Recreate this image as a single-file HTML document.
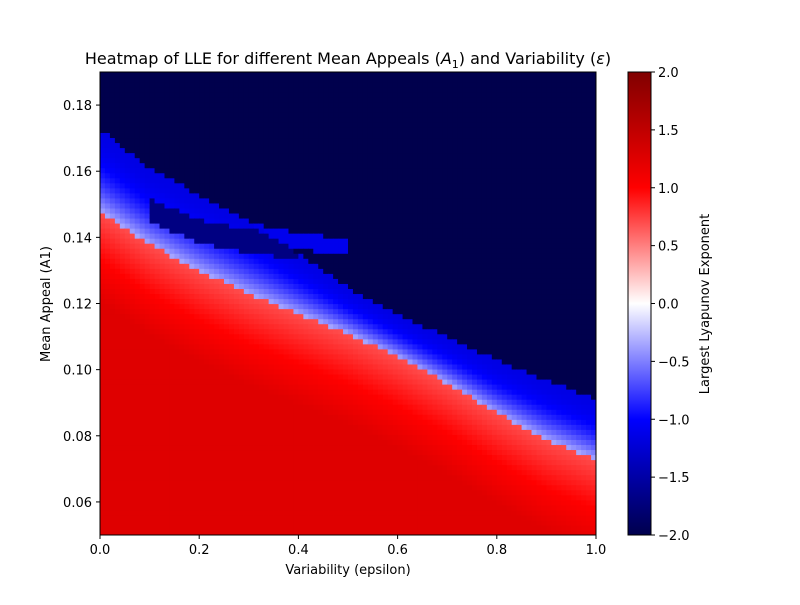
<!DOCTYPE html>
<html><head><meta charset="utf-8"><style>
body{margin:0;background:#fff;}
svg text{font-family:"DejaVu Sans","Liberation Sans",sans-serif;fill:#000;}
</style></head><body>
<svg id="chart" width="800" height="600" viewBox="0 0 800 600" xmlns="http://www.w3.org/2000/svg">
<defs>
<linearGradient id="cbgrad" x1="0" y1="1" x2="0" y2="0">
<stop offset="0" stop-color="rgb(0,0,77)"/>
<stop offset="0.25" stop-color="rgb(0,0,255)"/>
<stop offset="0.5" stop-color="rgb(255,255,255)"/>
<stop offset="0.75" stop-color="rgb(255,0,0)"/>
<stop offset="1" stop-color="rgb(128,0,0)"/>
</linearGradient>
<clipPath id="plotclip"><rect x="100" y="72" width="496" height="463"/></clipPath>
</defs>
<text x="348" y="64" font-size="16" text-anchor="middle">Heatmap of LLE for different Mean Appeals (<tspan font-style="italic">A</tspan><tspan font-size="11" dy="4">1</tspan><tspan dy="-4">) and Variability (</tspan><tspan font-style="italic">ε</tspan>)</text>
<g id="cells" clip-path="url(#plotclip)"></g>
<rect x="100" y="72" width="496" height="463" fill="none" stroke="#000" stroke-width="1"/>
<g id="xaxis"></g>
<g id="yaxis"></g>
<text x="348" y="574" font-size="13" text-anchor="middle">Variability (epsilon)</text>
<text transform="translate(50,304) rotate(-90)" font-size="13" text-anchor="middle">Mean Appeal (A1)</text>
<rect x="628" y="72" width="23" height="463" fill="url(#cbgrad)" stroke="#000" stroke-width="1"/>
<g id="cbaxis"></g>
<text transform="translate(709,304) rotate(-90)" font-size="13" text-anchor="middle">Largest Lyapunov Exponent</text>
</svg>
<script>
const epsGrid = [0, 0.1, 0.2, 0.3, 0.4, 0.5, 0.6, 0.7, 0.8, 0.9, 1.0];
const topBoundary = [0.173, 0.161, 0.153, 0.145, 0.135, 0.125, 0.117, 0.110, 0.103, 0.097, 0.091];
const redBoundary = [0.148, 0.138, 0.130, 0.123, 0.117, 0.111, 0.104, 0.096, 0.087, 0.079, 0.073];
const pocketCenter = [0, 0.148, 0.142, 0.139, 0.137, 0, 0, 0, 0, 0, 0];
const armCenter = [0, 0, 0.146, 0.142, 0.139, 0.137, 0, 0, 0, 0, 0];
const xTicks = [0, 0.2, 0.4, 0.6, 0.8, 1.0];
const xTickLabels = ["0.0", "0.2", "0.4", "0.6", "0.8", "1.0"];
const yTicks = [0.06, 0.08, 0.10, 0.12, 0.14, 0.16, 0.18];
const yTickLabels = ["0.06", "0.08", "0.10", "0.12", "0.14", "0.16", "0.18"];
const cbTicks = [-2, -1.5, -1, -0.5, 0, 0.5, 1, 1.5, 2];
const cbTickLabels = ["−2.0", "−1.5", "−1.0", "−0.5", "0.0", "0.5", "1.0", "1.5", "2.0"];

const NS = "http://www.w3.org/2000/svg";
const X0 = 100, X1 = 596, Y0 = 535, Y1 = 72;
const xMin = 0, xMax = 1, yMin = 0.05, yMax = 0.19;
function xScale(v){ return X0 + (v - xMin) / (xMax - xMin) * (X1 - X0); }
function yScale(v){ return Y0 - (v - yMin) / (yMax - yMin) * (Y0 - Y1); }
function cbScale(v){ return 535 - (v + 2) / 4 * 463; }
function interp(arr, e){
  const i = Math.min(epsGrid.length - 2, Math.floor(e / 0.1));
  const t = (e - epsGrid[i]) / (epsGrid[i+1] - epsGrid[i]);
  return arr[i] + (arr[i+1] - arr[i]) * t;
}
function interpOpt(arr, e){
  const i = Math.min(epsGrid.length - 2, Math.floor(e / 0.1));
  if (!arr[i] || !arr[i+1]) return 0;
  return interp(arr, e);
}
function seismic(v){
  let t = Math.max(0, Math.min(1, (v + 2) / 4));
  const stops = [[0,0,0,77],[0.25,0,0,255],[0.5,255,255,255],[0.75,255,0,0],[1,128,0,0]];
  for (let i = 0; i < 4; i++){
    if (t <= stops[i+1][0]){
      const a = stops[i], b = stops[i+1], f = (t - a[0]) / (b[0] - a[0]);
      return "rgb(" + [1,2,3].map(k => Math.round(a[k] + (b[k]-a[k])*f)).join(",") + ")";
    }
  }
  return "rgb(128,0,0)";
}
function lle(e, a){
  const top = interp(topBoundary, e), red = interp(redBoundary, e);
  const arm = interpOpt(armCenter, e);
  if (a > top) {
    if (arm && Math.abs(a - arm) < 0.0025) return -1.1;
    return -2;
  }
  if (a > red) {
    const pc = interpOpt(pocketCenter, e);
    if (pc && Math.abs(a - pc) < 0.0035) return -1.7;
    const f = (top - a) / (top - red);
    return -1.15 + f * f * 0.8;
  }
  return Math.min(1.25, 0.7 + (red - a) * 20);
}
const cells = document.getElementById("cells");
const nx = 100, ny = 92;
for (let i = 0; i < nx; i++){
  for (let j = 0; j < ny; j++){
    const e0 = xMin + i * (xMax - xMin) / nx, e1 = xMin + (i+1) * (xMax - xMin) / nx;
    const a0 = yMin + j * (yMax - yMin) / ny, a1 = yMin + (j+1) * (yMax - yMin) / ny;
    const r = document.createElementNS(NS, "rect");
    r.setAttribute("x", xScale(e0));
    r.setAttribute("y", yScale(a1));
    r.setAttribute("width", xScale(e1) - xScale(e0) + 0.6);
    r.setAttribute("height", yScale(a0) - yScale(a1) + 0.6);
    r.setAttribute("fill", seismic(lle((e0+e1)/2, (a0+a1)/2)));
    
    
    cells.appendChild(r);
  }
}
function addTick(g, x1, y1, x2, y2, tx, ty, label, anchor, name){
  const l = document.createElementNS(NS, "line");
  l.setAttribute("x1", x1); l.setAttribute("y1", y1); l.setAttribute("x2", x2); l.setAttribute("y2", y2);
  l.setAttribute("stroke", "#000");
  
  
  g.appendChild(l);
  const t = document.createElementNS(NS, "text");
  t.setAttribute("x", tx); t.setAttribute("y", ty); t.setAttribute("font-size", "13");
  t.setAttribute("text-anchor", anchor);
  t.textContent = label;
  
  
  g.appendChild(t);
}
const xg = document.getElementById("xaxis");
xTicks.forEach((v, i) => { const x = xScale(v); addTick(xg, x, 535, x, 539, x, 554, xTickLabels[i], "middle", "x-axis"); });
const yg = document.getElementById("yaxis");
yTicks.forEach((v, i) => { const y = yScale(v); addTick(yg, 100, y, 96, y, 92, y + 5, yTickLabels[i], "end", "y-axis"); });
const cg = document.getElementById("cbaxis");
cbTicks.forEach((v, i) => { const y = cbScale(v); addTick(cg, 651, y, 655, y, 658, y + 5, cbTickLabels[i], "start", "colorbar"); });
</script>
</body></html>
